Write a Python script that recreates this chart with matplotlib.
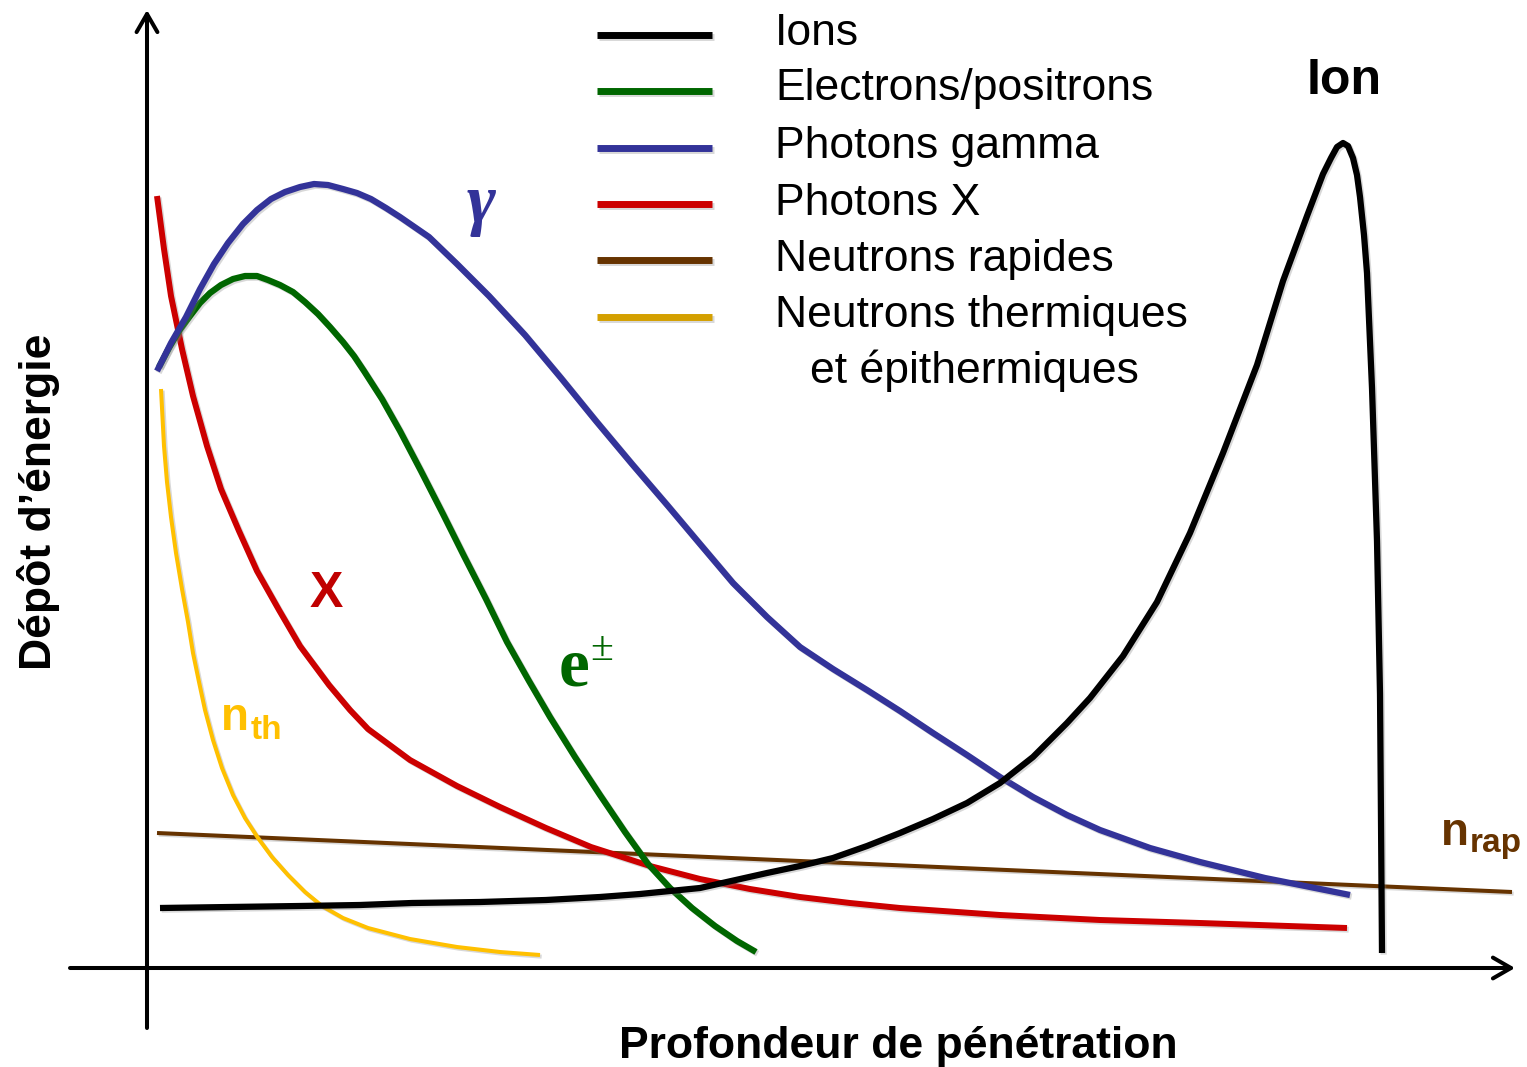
import matplotlib
matplotlib.use("Agg")
import matplotlib.pyplot as plt
import matplotlib.patheffects as pe
from matplotlib.lines import Line2D

plt.rcParams['font.family'] = ['Liberation Sans', 'DejaVu Sans']

W, H = 1527, 1067

# ---------------- data (depth, energy deposit; arbitrary units) ----------------
ion_depth = [1.3, 8.3, 15.3, 21.3, 26.5, 33.3, 39.9, 45.3, 49.3, 55.3, 62.0, 65.3,
             68.6, 72.0, 75.3, 78.6, 82.0, 85.3, 88.6, 92.0, 94.3, 97.6, 101.0, 104.3,
             107.6, 111.0, 113.6, 116.0, 117.6, 118.4, 119.0, 119.6, 120.1, 120.6, 121.0,
             121.3, 121.7, 122.0, 122.5, 123.0, 123.3, 123.4, 123.5]
ion_dose = [6.0, 6.1, 6.2, 6.3, 6.5, 6.6, 6.8, 7.1, 7.4, 8.0, 9.5, 10.2,
            11.0, 12.2, 13.5, 14.9, 16.5, 18.5, 21.1, 24.5, 27.0, 31.2, 36.6, 43.5,
            51.5, 60.3, 68.7, 75.2, 79.4, 81.0, 82.1, 82.5, 82.2, 81.0, 79.3,
            77.1, 73.3, 69.5, 58.0, 42.7, 27.4, 14.8, 1.5]

el_depth = [1.2, 2.2, 3.2, 4.3, 5.3, 6.3, 7.4, 8.6, 9.8, 11.0, 12.1, 13.3, 14.6, 15.8,
            17.1, 18.3, 19.6, 20.7, 21.7, 23.5, 25.3, 27.4, 29.6, 31.7, 33.9, 36.0, 38.2,
            40.3, 42.8, 45.3, 47.8, 50.1, 52.3, 54.5, 56.8, 59.0, 60.9]
el_dose = [60.1, 62.0, 63.7, 65.2, 66.5, 67.5, 68.3, 68.9, 69.2, 69.2, 68.8, 68.3, 67.6, 66.6,
           65.4, 64.1, 62.6, 61.2, 59.7, 56.9, 53.7, 49.7, 45.4, 41.2, 36.9, 32.6, 28.7,
           25.1, 21.1, 17.3, 13.6, 10.4, 8.0, 6.0, 4.2, 2.7, 1.6]

gam_depth = [1.0, 2.4, 3.9, 5.3, 6.7, 8.1, 9.6, 11.0, 12.4, 13.8, 15.3, 16.7, 18.1, 19.6,
             21.0, 22.4, 23.9, 25.3, 28.2, 31.0, 34.2, 37.8, 41.4, 44.9, 48.5, 52.1, 55.3,
             58.6, 62.0, 65.3, 68.6, 72.0, 75.3, 78.6, 82.0, 85.3, 88.6, 92.0, 95.3, 100.3,
             105.3, 111.8, 120.3]
gam_dose = [59.7, 62.5, 65.1, 67.9, 70.4, 72.5, 74.4, 75.8, 76.9, 77.6, 78.1, 78.4, 78.3, 77.9,
            77.5, 76.9, 76.0, 75.1, 73.1, 70.4, 67.2, 63.3, 59.0, 54.7, 50.4, 46.2, 42.4,
            38.5, 35.1, 32.1, 29.9, 27.8, 25.7, 23.5, 21.3, 19.1, 17.1, 15.3, 13.8, 12.0,
            10.6, 9.0, 7.3]

x_depth = [1.0, 1.7, 2.4, 3.5, 4.6, 6.0, 7.4, 9.2, 11.0, 13.2, 15.3, 18.2, 20.3, 22.1,
           26.3, 31.0, 35.3, 39.9, 44.4, 50.3, 55.3, 60.3, 65.3, 70.3, 75.3, 85.3, 95.3,
           105.3, 120.0]
x_dose = [77.2, 71.9, 67.2, 61.9, 57.2, 52.2, 47.9, 43.7, 39.7, 35.8, 32.2, 28.3, 25.8, 23.9,
          20.8, 18.2, 16.1, 14.0, 12.1, 10.2, 8.9, 7.9, 7.1, 6.5, 6.0, 5.3, 4.8,
          4.5, 4.0]

nrap_depth = [1.0, 136.5]
nrap_dose = [13.5, 7.6]

nth_depth = [1.4, 1.7, 2.0, 2.4, 2.9, 3.5, 4.1, 4.6, 5.2, 5.8, 6.6, 7.5, 8.6, 9.8, 11.1,
             12.5, 14.1, 15.8, 17.5, 19.6, 22.1, 26.3, 31.0, 35.3, 39.3]
nth_dose = [57.9, 52.2, 48.6, 45.1, 41.5, 37.9, 34.6, 31.5, 28.6, 25.8, 22.8, 20.0, 17.3, 15.0,
            13.0, 11.1, 9.3, 7.6, 6.2, 5.0, 4.0, 2.9, 2.1, 1.6, 1.3]

legend_labels = ["Ions", "Electrons/positrons", "Photons gamma", "Photons X",
                 "Neutrons rapides", "Neutrons thermiques"]
legend_extra = "et épithermiques"
xlabel = "Profondeur de pénétration"
ylabel = "Dépôt d’énergie"

# ---------------- style ----------------
c_ion, c_el, c_gam, c_x, c_nrap, c_nth = '#000000', '#006600', '#333399', '#CC0000', '#663300', '#FFC000'
legend_colors = [c_ion, c_el, c_gam, c_x, c_nrap, '#D4A000']

fig = plt.figure(figsize=(W / 100, H / 100), dpi=100)
ax = fig.add_axes([0, 0, 1, 1])
ax.set_xlim(-14.7, 138.0)
ax.set_ylim(-9.9, 96.8)
ax.axis('off')

shadow = [pe.SimpleLineShadow(offset=(1.2, -1.2), shadow_color='0.5', alpha=0.3), pe.Normal()]

# axes with arrows
arrow_kw = dict(arrowstyle='->,head_length=1.3,head_width=0.75', lw=2.9, color='black',
                shrinkA=0, shrinkB=0)
ax.annotate('', xy=(0, 95.8), xytext=(0, -6.0), arrowprops=arrow_kw)
ax.annotate('', xy=(136.8, 0), xytext=(-7.7, 0), arrowprops=arrow_kw)

common = dict(solid_capstyle='butt', solid_joinstyle='round', path_effects=shadow)
ax.plot(nrap_depth, nrap_dose, color=c_nrap, lw=2.9, **common)
ax.plot(nth_depth, nth_dose, color=c_nth, lw=2.9, **common)
ax.plot(x_depth, x_dose, color=c_x, lw=4.3, **common)
ax.plot(el_depth, el_dose, color=c_el, lw=4.5, **common)
ax.plot(gam_depth, gam_dose, color=c_gam, lw=4.5, **common)
ax.plot(ion_depth, ion_dose, color=c_ion, lw=4.5, **common)


def P(x, y):
    return (x / W, 1 - y / H)


# legend (manual, to match layout)
leg_y = [35, 91, 148, 204, 260, 317]
leg_base = [45, 100, 158, 215, 271, 327]
for lab, col, ly, bl in zip(legend_labels, legend_colors, leg_y, leg_base):
    x0, y0 = P(597, ly)
    x1, _ = P(712, ly)
    fig.add_artist(Line2D([x0, x1], [y0, y0], color=col, lw=5.0, solid_capstyle='butt',
                          path_effects=shadow))
    fig.text(*P(775, bl), lab, fontsize=32, va='baseline', ha='left')
fig.text(*P(810, 383), legend_extra, fontsize=32, va='baseline', ha='left')

# axis titles
fig.text(*P(898, 1058), xlabel, fontsize=32, fontweight='bold', ha='center', va='baseline')
fig.text(*P(51, 502), ylabel, fontsize=32, fontweight='bold', ha='center', va='baseline',
         rotation=90, rotation_mode='anchor')

# curve labels
fig.text(*P(1344, 94), 'Ion', fontsize=36, fontweight='bold', ha='center', va='baseline')
fig.text(*P(326, 607), 'X', fontsize=36, fontweight='bold', color='#C00000', ha='center', va='baseline')
fig.text(*P(481, 222), 'γ', fontsize=50, fontweight='bold', fontstyle='italic', color=c_gam,
         family=['Liberation Serif', 'DejaVu Serif'], ha='center', va='baseline')
fig.text(*P(559, 686), 'e', fontsize=50, fontweight='bold', color=c_el,
         family=['Liberation Serif', 'DejaVu Serif'], ha='left', va='baseline')
fig.text(*P(590, 660), '±', fontsize=30, color=c_el,
         family=['Liberation Serif', 'DejaVu Serif'], ha='left', va='baseline')
fig.text(*P(221, 730), 'n', fontsize=33, fontweight='bold', color=c_nth, ha='left', va='baseline')
fig.text(*P(251, 739), 'th', fontsize=24, fontweight='bold', color=c_nth, ha='left', va='baseline')
fig.text(*P(1441, 845), 'n', fontsize=33, fontweight='bold', color=c_nrap, ha='left', va='baseline')
fig.text(*P(1470, 852), 'rap', fontsize=24, fontweight='bold', color=c_nrap, ha='left', va='baseline')

fig.savefig('out.png', dpi=100)
